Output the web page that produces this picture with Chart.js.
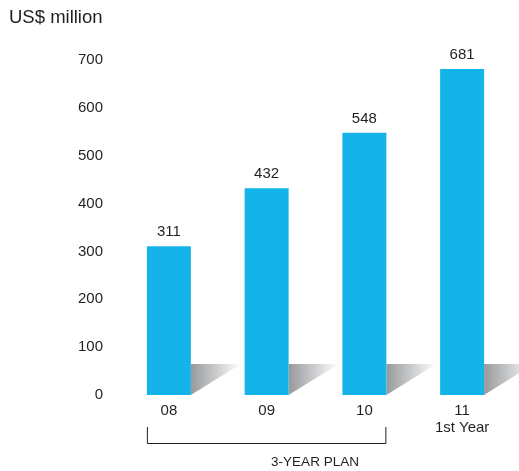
<!DOCTYPE html>
<html>
<head>
<meta charset="utf-8">
<script src="https://cdn.jsdelivr.net/npm/chart.js@4"></script>
<style>
  html, body { margin: 0; padding: 0; background: #fff; }
  #wrap { position: relative; width: 519px; height: 471px; }
</style>
</head>
<body>
<div id="wrap"><canvas id="chart" width="519" height="471"></canvas></div>
<script>
var years = ['08', '09', '10', ['11', '1st Year']];
var revenue = [311, 432, 548, 681];
var yTicks = [0, 100, 200, 300, 400, 500, 600, 700];

var FONT = '"Liberation Sans", Arial, sans-serif';
var TEXT = '#231f20';

// gray wedge to the right of each bar, then the value on top
var decorations = {
    id: 'decorations',
    beforeDatasetsDraw: function (chart) {
        var ctx = chart.ctx;
        chart.getDatasetMeta(0).data.forEach(function (bar) {
            var r = bar.x + bar.width / 2;
            var b = bar.base;
            var g = ctx.createLinearGradient(r, 0, r + 50, 0);
            g.addColorStop(0, '#98999b');
            g.addColorStop(0.6, '#d4d5d6');
            g.addColorStop(1, '#ffffff');
            ctx.save();
            ctx.fillStyle = g;
            ctx.beginPath();
            ctx.moveTo(r, b);
            ctx.lineTo(r, b - 31);
            ctx.lineTo(r + 50, b - 31);
            ctx.closePath();
            ctx.fill();
            ctx.restore();
        });
    },
    afterDatasetsDraw: function (chart) {
        var ctx = chart.ctx;
        ctx.save();
        ctx.font = '15px ' + FONT;
        ctx.fillStyle = TEXT;
        ctx.textAlign = 'center';
        ctx.textBaseline = 'middle';
        chart.getDatasetMeta(0).data.forEach(function (bar, i) {
            ctx.fillText(revenue[i], bar.x, bar.y - 14);
        });
        ctx.restore();
    },
    afterDraw: function (chart) {
        var ctx = chart.ctx;
        var bars = chart.getDatasetMeta(0).data;
        var left = bars[0].x - bars[0].width / 2;
        var right = bars[2].x + bars[2].width / 2;
        ctx.save();
        ctx.strokeStyle = TEXT;
        ctx.lineWidth = 1;
        ctx.beginPath();
        ctx.moveTo(left + 0.5, 427);
        ctx.lineTo(left + 0.5, 443.5);
        ctx.lineTo(right - 0.5, 443.5);
        ctx.lineTo(right - 0.5, 427);
        ctx.stroke();
        ctx.font = '13.5px ' + FONT;
        ctx.fillStyle = TEXT;
        ctx.textAlign = 'center';
        ctx.textBaseline = 'middle';
        ctx.fillText('3-YEAR PLAN', 315, 462);
        ctx.font = '18.5px ' + FONT;
        ctx.textAlign = 'left';
        ctx.fillText('US$ million', 9, 18);
        ctx.restore();
    }
};

new Chart(document.getElementById('chart').getContext('2d'), {
    type: 'bar',
    data: {
        labels: years,
        datasets: [{
            data: revenue,
            backgroundColor: '#14b4ea',
            borderWidth: 0,
            barPercentage: 0.45,
            categoryPercentage: 1
        }]
    },
    options: {
        responsive: false,
        animation: false,
        layout: { padding: { top: 60, right: 8, left: 0, bottom: 0 } },
        plugins: {
            legend: { display: false },
            tooltip: { enabled: false }
        },
        scales: {
            x: {
                grid: { display: false, drawTicks: false },
                border: { display: false },
                ticks: {
                    color: TEXT,
                    padding: 7,
                    font: { family: FONT, size: 15, lineHeight: 1.15 }
                },
                afterFit: function (scale) { scale.height = 76; }
            },
            y: {
                min: 0,
                max: 700,
                grid: { display: false, drawTicks: false },
                border: { display: false },
                afterBuildTicks: function (scale) {
                    scale.ticks = yTicks.map(function (v) { return { value: v }; });
                },
                ticks: {
                    color: TEXT,
                    padding: 17,
                    font: { family: FONT, size: 15 }
                },
                afterFit: function (scale) { scale.width = 120; }
            }
        }
    },
    plugins: [decorations]
});
</script>
</body>
</html>
